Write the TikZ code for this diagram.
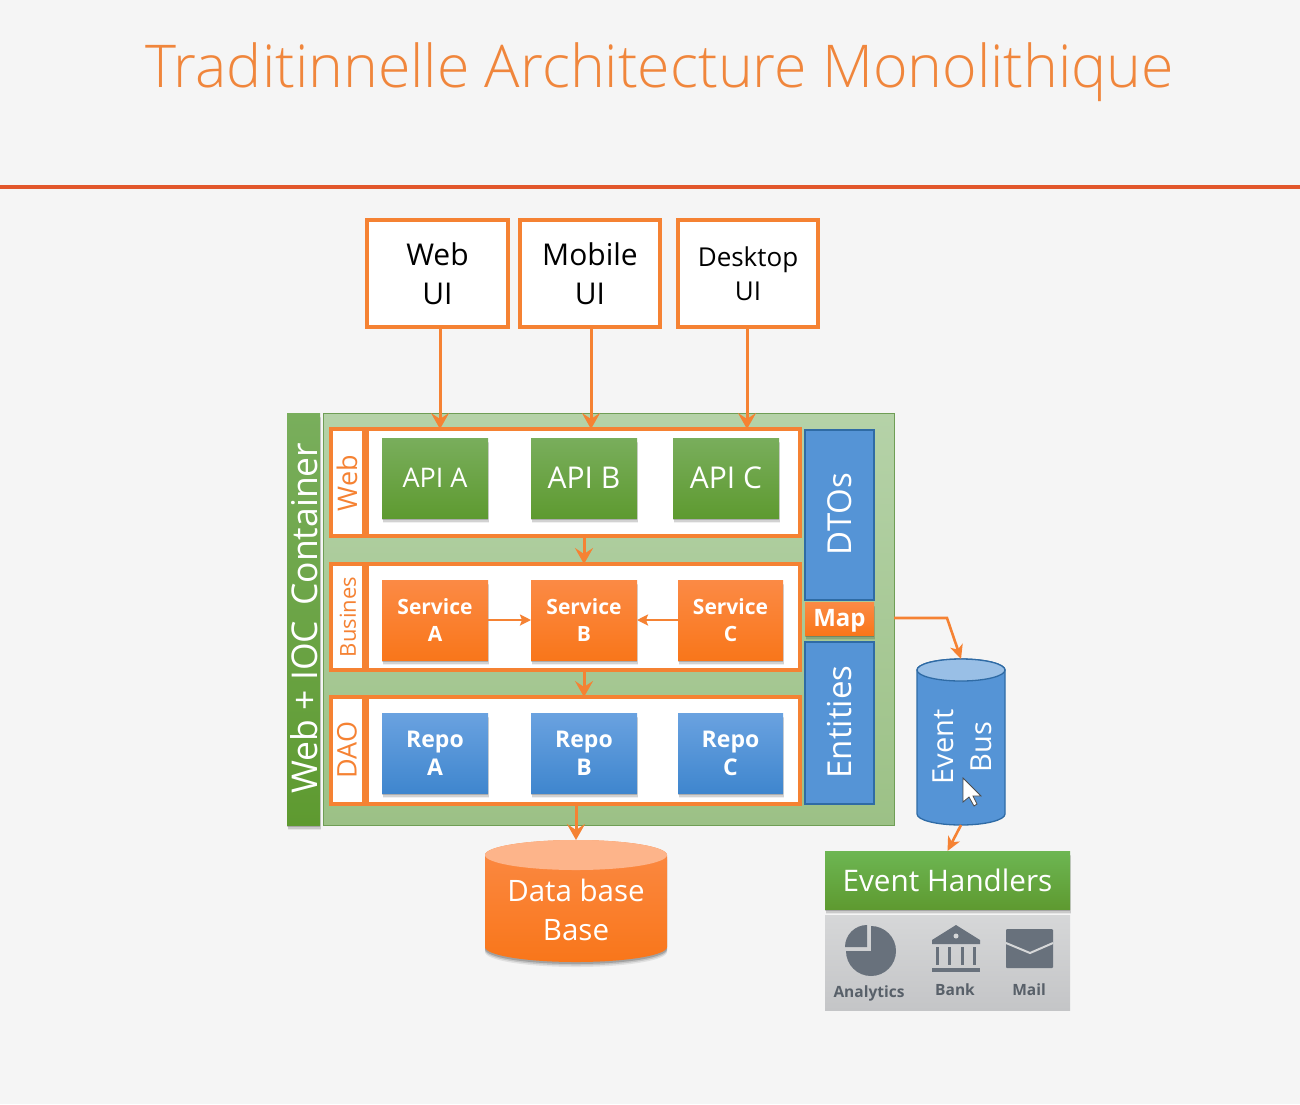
\documentclass[tikz,border=0pt]{standalone}
\usepackage{fontspec}
\setmainfont{Open Sans}
\newfontfamily\lightfont{Open Sans Light}
\usetikzlibrary{arrows.meta,shadows}
\definecolor{bgc}{HTML}{F5F5F5}
\definecolor{orangeA}{HTML}{F58233}
\definecolor{titlec}{HTML}{F0863C}
\definecolor{redline}{HTML}{E2572B}
\definecolor{icon}{HTML}{68717C}
\definecolor{greentop}{HTML}{79AE5C}
\definecolor{greenbot}{HTML}{5E9A30}
\definecolor{orangetop}{HTML}{FB8A45}
\definecolor{orangebot}{HTML}{F9761A}
\definecolor{bluetop}{HTML}{6AA2E0}
\definecolor{bluebot}{HTML}{3F86CE}
\definecolor{blueside}{HTML}{5594D6}
\definecolor{blueline}{HTML}{2F6BA5}
\definecolor{conttop}{HTML}{B5D2A8}
\definecolor{contbot}{HTML}{9CC186}
\definecolor{contline}{HTML}{6F9E55}
\definecolor{greyt}{HTML}{D6D7D8}
\definecolor{greyb}{HTML}{C4C5C7}
\definecolor{dbtop}{HTML}{FDB48A}
\tikzset{
  x=1pt,y=-1pt,
  span/.style n args={4}{minimum width={(#3-#1)*1pt},minimum height={(#4-#2)*1pt},at={({(#1+#3)/2},{(#2+#4)/2})}},
  base/.style={rectangle,inner sep=0pt,outer sep=0pt,align=center},
  softshadow/.style={
    drop shadow={shadow xshift=.5pt,shadow yshift=-5pt,opacity=.06,fill=black},
    drop shadow={shadow xshift=.5pt,shadow yshift=-3.5pt,opacity=.12,fill=black},
    drop shadow={shadow xshift=0pt,shadow yshift=-2pt,opacity=.18,fill=black}},
  uibox/.style={base,draw=orangeA,line width=4pt,fill=white,text=black},
  rowbox/.style={base,draw=orangeA,line width=3.6pt,fill=white},
  rowlabel/.style={base,rotate=90,text=orangeA,font=\fontsize{27}{30}\selectfont},
  greenbox/.style={base,softshadow,top color=greentop,bottom color=greenbot,text=white},
  orangebox/.style={base,softshadow,top color=orangetop,bottom color=orangebot,text=white},
  bluebox/.style={base,softshadow,top color=bluetop,bottom color=bluebot,text=white},
  sidebox/.style={base,draw=blueline,line width=1.2pt,fill=blueside},
  sidetext/.style={base,rotate=90,text=white,font=\fontsize{33}{36}\selectfont},
  boldtext/.style={font=\bfseries\fontsize{21}{26.5}\selectfont},
  repotext/.style={font=\bfseries\fontsize{23}{28}\selectfont},
  conn/.style={draw=orangeA,line width=3pt,-{Stealth[length=16pt,width=18pt,inset=6pt]}},
  connsm/.style={draw=orangeA,line width=2.6pt,-{Stealth[length=11pt,width=11pt,inset=2pt]}},
  connbus/.style={draw=orangeA,line width=2.6pt,-{Stealth[length=14pt,width=13pt,inset=4pt]}},
  icontext/.style={base,text=icon!85!black,font=\bfseries\fontsize{15.5}{18}\selectfont},
}
\begin{document}
\begin{tikzpicture}
\useasboundingbox (0,0) rectangle (1300,1104);
\fill[bgc] (0,0) rectangle (1300,1104);
\node[base,text=titlec,font=\lightfont\fontsize{59}{66}\selectfont] (title) at (660,72) {Traditinnelle Architecture Monolithique};
\fill[redline] (0,185) rectangle (1300,189);

% clients
\node[uibox,span={367}{220}{508}{327},font=\fontsize{30}{39}\selectfont] (webui) {Web\\UI};
\node[uibox,span={520}{220}{660}{327},font=\fontsize{30}{39}\selectfont] (mobui) {Mobile\\UI};
\node[uibox,span={678}{220}{818}{327},font=\fontsize{26}{34}\selectfont] (deskui) {Desktop\\UI};

% containers
\node[base,draw=contline,line width=1pt,top color=conttop,bottom color=contbot,span={323}{413}{894}{825}] (cont) {};
\node[greenbox,span={287}{413}{320}{825}] (ioc) {};
\node[base,rotate=90,text=white,font=\fontsize{35.5}{38}\selectfont] (ioclabel) at (304,618) {Web + IOC\, Container};

% rows
\node[rowbox,span={331}{429}{800}{536}] (webrow) {};
\node[rowbox,span={331}{564}{800}{670}] (busrow) {};
\node[rowbox,span={331}{697}{800}{804}] (daorow) {};
\foreach \r in {webrow,busrow,daorow}{
  \draw[draw=orangeA,line width=6.5pt] ([xshift=34.7pt]\r.north west) -- ([xshift=34.7pt]\r.south west);
}
\node[rowlabel] (weblabel) at (347,483) {Web};
\node[rowlabel,font=\fontsize{22}{26}\selectfont] (buslabel) at (348,617) {Busines};
\node[rowlabel] (daolabel) at (347,750) {DAO};

% boxes
\node[greenbox,span={382}{438}{488}{518},font=\fontsize{27}{30}\selectfont] (apia) {API A};
\node[greenbox,span={531}{438}{637}{518},font=\fontsize{30}{32}\selectfont] (apib) {API B};
\node[greenbox,span={673}{438}{779}{518},font=\fontsize{30}{32}\selectfont] (apic) {API C};
\node[orangebox,boldtext,span={382}{580}{488}{660}] (sa) {Service\\A};
\node[orangebox,boldtext,span={531}{580}{637}{660}] (sb) {Service\\B};
\node[orangebox,boldtext,span={678}{580}{783}{660}] (sc) {Service\\C};
\node[bluebox,repotext,span={382}{713}{488}{793}] (ra) {Repo\\A};
\node[bluebox,repotext,span={531}{713}{637}{793}] (rb) {Repo\\B};
\node[bluebox,repotext,span={678}{713}{783}{793}] (rc) {Repo\\C};

% side
\node[sidebox,span={805}{430}{874}{600}] (dto) {};
\node[sidetext] (dtolabel) at (840,514) {DTOs};
\node[sidebox,span={805}{642}{874}{804}] (ent) {};
\node[sidetext] (entlabel) at (840,722) {Entities};
\node[orangebox,span={805}{602}{874}{635},font=\bfseries\fontsize{24}{26}\selectfont] (map) {\raisebox{-8pt}[0pt][0pt]{Map}};

% database
\node[base,span={485}{840}{667}{962}] (db) {};
\foreach \dy/\op in {5/.08,3.5/.12,2/.18}{
  \fill[black,opacity=\op] (485,855+\dy) -- (485,947+\dy) arc[start angle=180,end angle=0,x radius=91,y radius=15] -- (667,855+\dy) -- cycle;
}
\path[top color=orangetop,bottom color=orangebot] (485,855) -- (485,947) arc[start angle=180,end angle=0,x radius=91,y radius=15] -- (667,855) arc[start angle=0,end angle=-180,x radius=91,y radius=15] -- cycle;
\fill[dbtop] (576,855) ellipse[x radius=91,y radius=15];
\node[base,text=white,font=\fontsize{29.5}{39}\selectfont] (dblabel) at (576,910) {Data base\\Base};

% event bus
\node[base,span={917}{659}{1005}{825}] (bus) {};
\path[draw=blueline,line width=1.3pt,fill=blueside] (917,670) -- (917,814) arc[start angle=180,end angle=0,x radius=44,y radius=11] -- (1005,670) arc[start angle=0,end angle=-180,x radius=44,y radius=11] -- cycle;
\path[draw=blueline,line width=1.3pt,fill=blueside!60!white] (961,670) ellipse[x radius=44,y radius=11];
\node[base,rotate=90,text=white,font=\fontsize{29}{38}\selectfont] (buslabeltext) at (962,747) {Event\\Bus};
\path[draw=black!70,line width=.8pt,fill=white] (963,778) -- (963,802) -- (969,797) -- (974,806) -- (977,804) -- (973,796) -- (981,796) -- cycle;

% handlers
\node[base,softshadow,top color=greentop!90!green,bottom color=greenbot,text=white,span={825}{851}{1070}{909},font=\fontsize{29.7}{34}\selectfont] (eh) {Event Handlers};
\node[base,top color=greyt,bottom color=greyb,span={825}{915}{1070}{1010}] (icons) {};
\fill[icon] (871,951) -- (871,926) arc[start angle=-90,end angle=180,radius=25] -- cycle;
\fill[icon] (867,947) -- (845,947) arc[start angle=180,end angle=270,radius=22] -- cycle;
\fill[icon] (932,940) -- (956,925) -- (980,940) -- (980,944) -- (932,944) -- cycle;
\fill[greyt] (956,936) circle[radius=2.5];
\foreach \cx in {937,949,962,974}{\fill[icon] (\cx-1.5,947) rectangle (\cx+1.5,965);}
\fill[icon] (932,968) rectangle (980,972);
\fill[icon,rounded corners=1pt] (1006,929) rectangle (1053,968);
\draw[greyt,line width=2pt] (1006,943) -- (1030,953) -- (1053,943);
\node[icontext] (ian) at (869,993) {Analytics};
\node[icontext] (iba) at (955,990) {Bank};
\node[icontext] (ima) at (1029,990) {Mail};

% connectors
\draw[conn] ([xshift=2.5pt]webui.south) -- ([xshift=2.5pt]webui.south |- webrow.north);
\draw[conn] ([xshift=1pt]mobui.south) -- ([xshift=1pt]mobui.south |- webrow.north);
\draw[conn] ([xshift=-1pt]deskui.south) -- ([xshift=-1pt]deskui.south |- webrow.north);
\draw[conn] (webrow.south -| apib) -- (busrow.north -| apib);
\draw[conn] (busrow.south -| sb) -- (daorow.north -| sb);
\draw[conn] (daorow.south -| db) -- (db.north);
\draw[connsm] (sa.east) -- (sb.west);
\draw[connsm] (sc.west) -- (sb.east);
\coordinate (elbow) at (947,618);
\draw[connbus] (cont.east |- elbow) -- (elbow) -- (bus.north);
\draw[connbus] (bus.south) -- (eh.north);
\end{tikzpicture}
\end{document}
